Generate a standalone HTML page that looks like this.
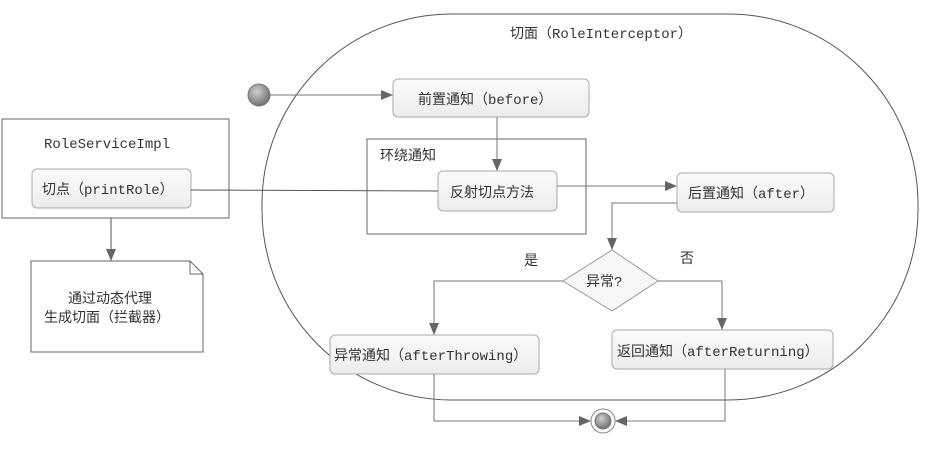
<!DOCTYPE html>
<html><head><meta charset="utf-8"><style>
html,body{margin:0;padding:0;background:#fff;}
svg{display:block;}
text{font-family:"Liberation Mono","Noto Sans CJK SC",monospace;font-size:14px;fill:#333;}
</style></head><body>
<svg width="930" height="457" viewBox="0 0 930 457" xmlns="http://www.w3.org/2000/svg">
<defs>
<linearGradient id="bx" x1="0" y1="0" x2="0" y2="1"><stop offset="0" stop-color="#fbfbfb"/><stop offset="1" stop-color="#ececec"/></linearGradient>
<radialGradient id="ball" cx="0.4" cy="0.35" r="0.7"><stop offset="0" stop-color="#d0d0d0"/><stop offset="1" stop-color="#6a6a6a"/></radialGradient>
<marker id="ar" markerWidth="12" markerHeight="10" refX="12" refY="5" orient="auto" markerUnits="userSpaceOnUse"><path d="M0,0 L12,5 L0,10 z" fill="#666"/></marker>
</defs>
<rect x="262" y="14" width="656" height="386" rx="190" ry="190" fill="none" stroke="#555" stroke-width="1"/>
<text x="510" y="38">切面（RoleInterceptor）</text>

<circle cx="259" cy="95" r="11" fill="url(#ball)" stroke="#777"/>
<line x1="270" y1="95" x2="393" y2="95" stroke="#777" marker-end="url(#ar)"/>
<rect x="393" y="79" width="196" height="38" rx="5" fill="url(#bx)" stroke="#aaa"/>
<text x="418" y="104">前置通知（before）</text>

<rect x="367" y="139" width="219" height="95" fill="none" stroke="#666"/>
<text x="380" y="160">环绕通知</text>
<line x1="497" y1="117" x2="497" y2="171" stroke="#777" marker-end="url(#ar)"/>
<rect x="438" y="171" width="119" height="40" rx="5" fill="url(#bx)" stroke="#aaa"/>
<text x="450" y="197">反射切点方法</text>

<rect x="2" y="119" width="227" height="99" fill="#fff" stroke="#666"/>
<text x="44" y="148">RoleServiceImpl</text>
<rect x="32" y="169" width="159" height="39" rx="5" fill="url(#bx)" stroke="#aaa"/>
<text x="42" y="194">切点（printRole）</text>
<line x1="191" y1="190" x2="438" y2="191" stroke="#555"/>
<line x1="111" y1="218" x2="111" y2="261" stroke="#555" marker-end="url(#ar)"/>
<path d="M31,261 L190,261 L203,274 L203,352 L31,352 Z M190,261 L190,274 L203,274" fill="#fff" stroke="#666"/>
<text x="68" y="303">通过动态代理</text>
<text x="44" y="322">生成切面（拦截器）</text>

<line x1="557" y1="186" x2="677" y2="186" stroke="#777" marker-end="url(#ar)"/>
<rect x="677" y="173" width="157" height="39" rx="5" fill="url(#bx)" stroke="#aaa"/>
<text x="688" y="198">后置通知（after）</text>
<polyline points="677,203 612,203 612,250" fill="none" stroke="#777" marker-end="url(#ar)"/>
<polygon points="612,250 658,281 612,311 563,281" fill="#f7f7f7" stroke="#999"/>
<text x="586" y="286">异常?</text>
<text x="524" y="265">是</text>
<text x="680" y="263">否</text>
<polyline points="563,281 434,281 434,335" fill="none" stroke="#777" marker-end="url(#ar)"/>
<polyline points="658,281 722,281 722,330" fill="none" stroke="#777" marker-end="url(#ar)"/>
<rect x="330" y="335" width="209" height="39" rx="5" fill="url(#bx)" stroke="#aaa"/>
<text x="334" y="360">异常通知（afterThrowing）</text>
<rect x="612" y="330" width="221" height="39" rx="5" fill="url(#bx)" stroke="#aaa"/>
<text x="617" y="356">返回通知（afterReturning）</text>

<polyline points="434,374 434,421 591,421" fill="none" stroke="#777" marker-end="url(#ar)"/>
<polyline points="725,369 725,421 615,421" fill="none" stroke="#777" marker-end="url(#ar)"/>
<circle cx="603" cy="421" r="12" fill="#fff" stroke="#888"/>
<circle cx="603" cy="421" r="8" fill="url(#ball)" stroke="#777"/>
</svg>
</body></html>
